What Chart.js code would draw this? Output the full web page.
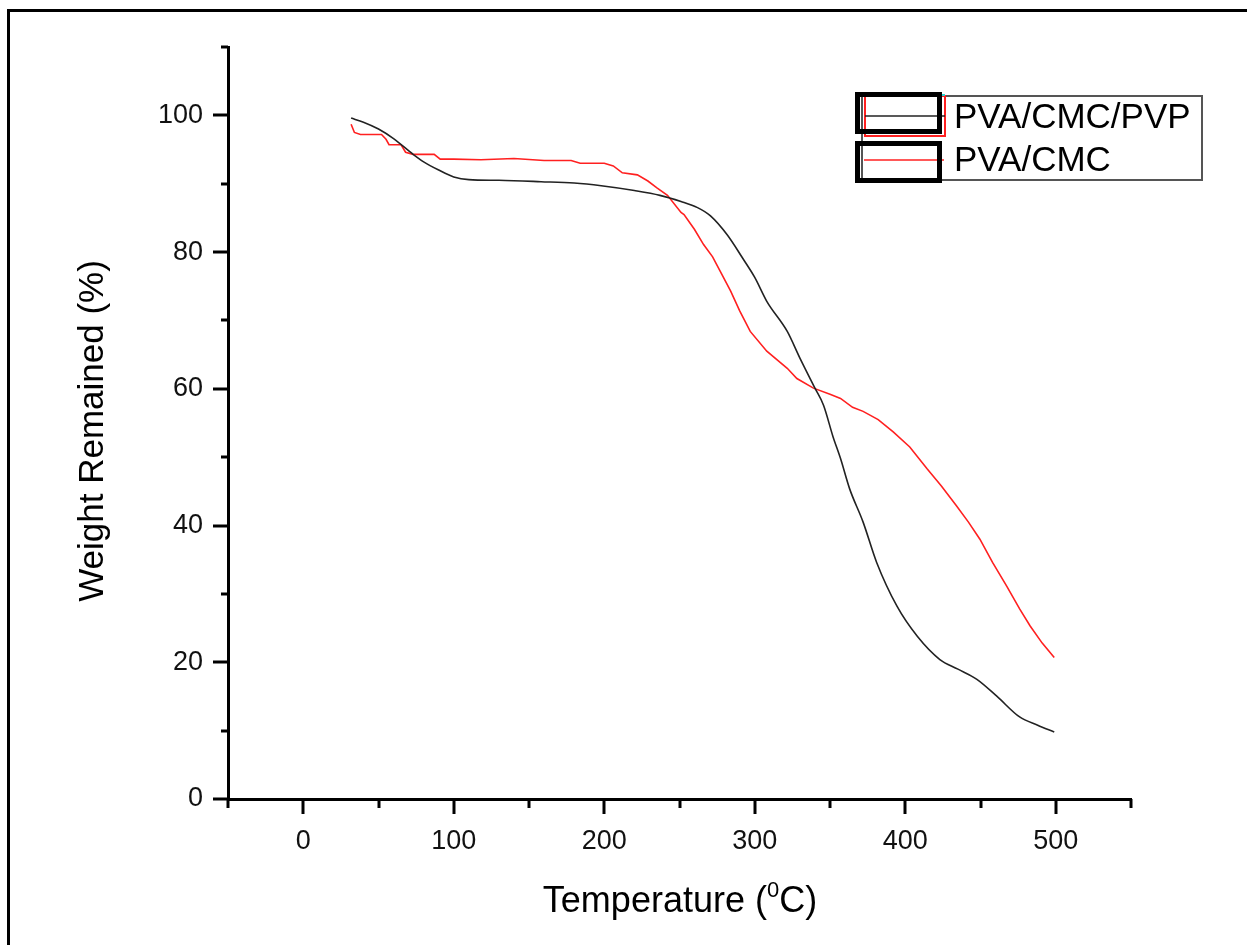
<!DOCTYPE html>
<html>
<head>
<meta charset="utf-8">
<title>TGA - Weight Remained</title>
<script src="https://cdn.jsdelivr.net/npm/chart.js@4.4.1/dist/chart.umd.min.js"></script>
<style>
    html, body { margin: 0; padding: 0; background: #ffffff; }
    #wrap { position: relative; width: 1247px; height: 945px; overflow: hidden; }
    #frame {
        position: absolute; left: 7px; top: 9px; width: 1300px; height: 1000px;
        border-left: 3px solid #000; border-top: 3px solid #000;
    }
    #tgaChart { position: absolute; left: 0; top: 0; }
</style>
</head>
<body>
<div id="wrap">
    <div id="frame"></div>
    <canvas id="tgaChart" width="1247" height="945"></canvas>
</div>
<script>
// ===========================
// DATA
// ===========================

const seriesNames = ['PVA/CMC/PVP', 'PVA/CMC'];

// PVA/CMC/PVP (black)
const tempPVP = [31.8, 40, 50, 60, 73, 80, 90, 100, 110, 130, 158, 180, 198, 220, 237, 251, 262, 270.6,
    281.8, 292, 300, 308, 321.6, 330, 340, 345.7, 352, 357, 363, 372, 381, 394.5, 408, 423, 435,
    447.6, 461, 476, 488, 499];
const weightPVP = [99.6, 99.0, 98.0, 96.6, 94.3, 93.2, 92.0, 91.0, 90.6, 90.5, 90.3, 90.1, 89.7, 89.0, 88.3,
    87.4, 86.5, 85.3, 82.5, 79.1, 76.3, 72.8, 68.4, 64.5, 60.1, 57.6, 53.0, 49.8, 45.4, 40.5, 34.6,
    28.2, 23.8, 20.4, 19.0, 17.5, 15.0, 12.0, 10.8, 9.8];

// PVA/CMC (red)
const tempCMC = [31.8, 34, 38, 52, 55, 57, 65, 68, 73, 87, 91, 100, 118, 140, 160, 178, 184, 200, 206, 212,
    222, 229, 235, 242, 251, 253, 260, 266, 272, 277, 284, 290, 297, 308, 321.6, 328, 339, 350, 357,
    365, 372, 382, 392, 403, 414.5, 424, 434, 442, 449.6, 458, 467.5, 476, 483, 491, 499];
const weightCMC = [98.7, 97.5, 97.2, 97.2, 96.5, 95.7, 95.7, 94.6, 94.3, 94.3, 93.6, 93.6, 93.5, 93.7, 93.4,
    93.4, 93.0, 93.0, 92.6, 91.6, 91.3, 90.4, 89.4, 88.3, 85.8, 85.5, 83.3, 81.1, 79.3, 77.2, 74.3,
    71.4, 68.4, 65.5, 63.0, 61.5, 60.1, 59.2, 58.6, 57.3, 56.7, 55.5, 53.7, 51.5, 48.3, 45.8, 42.9,
    40.5, 38.0, 34.6, 31.1, 27.8, 25.3, 22.8, 20.7];

// axis ranges and tick labels
const xMin = -50, xMax = 550, xMinorStep = 50;
const yMin = 0, yMax = 110, yMinorStep = 10;
const xTickLabels = [0, 100, 200, 300, 400, 500];
const yTickLabels = [0, 20, 40, 60, 80, 100];

const xTitle = 'Temperature (';
const xTitleSup = '0';
const xTitleEnd = 'C)';
const yTitle = 'Weight Remained (%)';

const FONT = '"Liberation Sans", Arial, sans-serif';

function toPoints(xs, ys) {
    return xs.map((x, i) => ({ x: x, y: ys[i] }));
}

// ===========================
// CUSTOM DRAWING (ticks, titles, legend)
// ===========================

const originDecor = {
    id: 'originDecor',
    afterDraw(chart) {
        const ctx = chart.ctx;
        const xs = chart.scales.x;
        const ys = chart.scales.y;
        const area = chart.chartArea;

        ctx.save();
        ctx.strokeStyle = '#000';
        ctx.lineWidth = 3;
        ctx.lineCap = 'butt';

        // x tick marks (major 15px, minor 9px, outward)
        for (let v = xMin; v <= xMax; v += xMinorStep) {
            const px = Math.round(xs.getPixelForValue(v));
            const len = xTickLabels.includes(v) ? 15 : 9;
            ctx.beginPath();
            ctx.moveTo(px, area.bottom);
            ctx.lineTo(px, area.bottom + len);
            ctx.stroke();
        }
        // y tick marks
        for (let v = yMin; v <= yMax; v += yMinorStep) {
            const py = Math.round(ys.getPixelForValue(v));
            const len = yTickLabels.includes(v) ? 15 : 7;
            ctx.beginPath();
            ctx.moveTo(area.left, py);
            ctx.lineTo(area.left - len, py);
            ctx.stroke();
        }

        // axis titles
        ctx.fillStyle = '#000';
        ctx.font = '36px ' + FONT;
        ctx.textBaseline = 'alphabetic';
        const w1 = ctx.measureText(xTitle).width;
        ctx.font = '22px ' + FONT;
        const w2 = ctx.measureText(xTitleSup).width;
        ctx.font = '36px ' + FONT;
        const w3 = ctx.measureText(xTitleEnd).width;
        let tx = 680 - (w1 + w2 + w3) / 2;
        const base = 912;
        ctx.textAlign = 'left';
        ctx.fillText(xTitle, tx, base);
        tx += w1;
        ctx.font = '22px ' + FONT;
        ctx.fillText(xTitleSup, tx, base - 15);
        tx += w2;
        ctx.font = '36px ' + FONT;
        ctx.fillText(xTitleEnd, tx, base);

        ctx.save();
        ctx.translate(103, 431);
        ctx.rotate(-Math.PI / 2);
        ctx.textAlign = 'center';
        ctx.font = '35px ' + FONT;
        ctx.fillText(yTitle, 0, 0);
        ctx.restore();

        // legend box
        ctx.lineWidth = 2;
        ctx.strokeStyle = '#555';
        ctx.strokeRect(862, 96, 340, 84);

        // first entry sample: red outline, black line
        ctx.lineWidth = 2;
        ctx.strokeStyle = '#ff2020';
        ctx.strokeRect(865, 96, 80, 40);
        ctx.strokeStyle = '#28d6d6';
        ctx.beginPath();
        ctx.moveTo(865, 95);
        ctx.lineTo(945, 95);
        ctx.stroke();
        ctx.strokeStyle = '#222';
        ctx.lineWidth = 1.5;
        ctx.beginPath();
        ctx.moveTo(865, 116);
        ctx.lineTo(945, 116);
        ctx.stroke();
        // second entry sample: red line
        ctx.strokeStyle = '#ff2020';
        ctx.beginPath();
        ctx.moveTo(864, 160);
        ctx.lineTo(944, 160);
        ctx.stroke();

        // thick black boxes over the samples
        ctx.lineWidth = 5;
        ctx.strokeStyle = '#000';
        ctx.strokeRect(857.5, 94.5, 82, 37);
        ctx.strokeRect(857.5, 143.5, 82, 37);

        ctx.fillStyle = '#000';
        ctx.font = '35px ' + FONT;
        ctx.textAlign = 'left';
        ctx.textBaseline = 'middle';
        ctx.fillText(seriesNames[0], 954, 118);
        ctx.fillText(seriesNames[1], 954, 161);

        ctx.restore();
    }
};

// ===========================
// CHART
// ===========================

const tgaChart = new Chart(document.getElementById('tgaChart'), {
    type: 'line',
    data: {
        datasets: [
            {
                label: seriesNames[0],
                data: toPoints(tempPVP, weightPVP),
                borderColor: '#222222',
                borderWidth: 1.6,
                pointRadius: 0,
                tension: 0.4,
                cubicInterpolationMode: 'monotone',
                fill: false
            },
            {
                label: seriesNames[1],
                data: toPoints(tempCMC, weightCMC),
                borderColor: '#ff2020',
                borderWidth: 1.6,
                pointRadius: 0,
                tension: 0,
                fill: false
            }
        ]
    },
    options: {
        responsive: false,
        animation: false,
        devicePixelRatio: 1,
        layout: {
            padding: { left: 0, right: 116, top: 47, bottom: 0 }
        },
        plugins: {
            legend: { display: false },
            tooltip: { enabled: false }
        },
        scales: {
            x: {
                type: 'linear',
                min: xMin,
                max: xMax,
                afterFit: function (scale) { scale.height = 146; },
                afterBuildTicks: function (scale) {
                    scale.ticks = xTickLabels.map(v => ({ value: v }));
                },
                border: { display: true, color: '#000', width: 3 },
                grid: { display: true, drawOnChartArea: false, drawTicks: true, tickLength: 15, tickColor: 'rgba(0,0,0,0)' },
                ticks: {
                    color: '#111',
                    font: { family: FONT, size: 27 },
                    padding: 11,
                    maxRotation: 0
                }
            },
            y: {
                type: 'linear',
                min: yMin,
                max: yMax,
                afterFit: function (scale) { scale.width = 228; },
                afterBuildTicks: function (scale) {
                    scale.ticks = yTickLabels.map(v => ({ value: v }));
                },
                border: { display: true, color: '#000', width: 3 },
                grid: { display: true, drawOnChartArea: false, drawTicks: true, tickLength: 15, tickColor: 'rgba(0,0,0,0)' },
                ticks: {
                    color: '#111',
                    font: { family: FONT, size: 27 },
                    padding: 10
                }
            }
        }
    },
    plugins: [originDecor]
});
</script>
</body>
</html>
